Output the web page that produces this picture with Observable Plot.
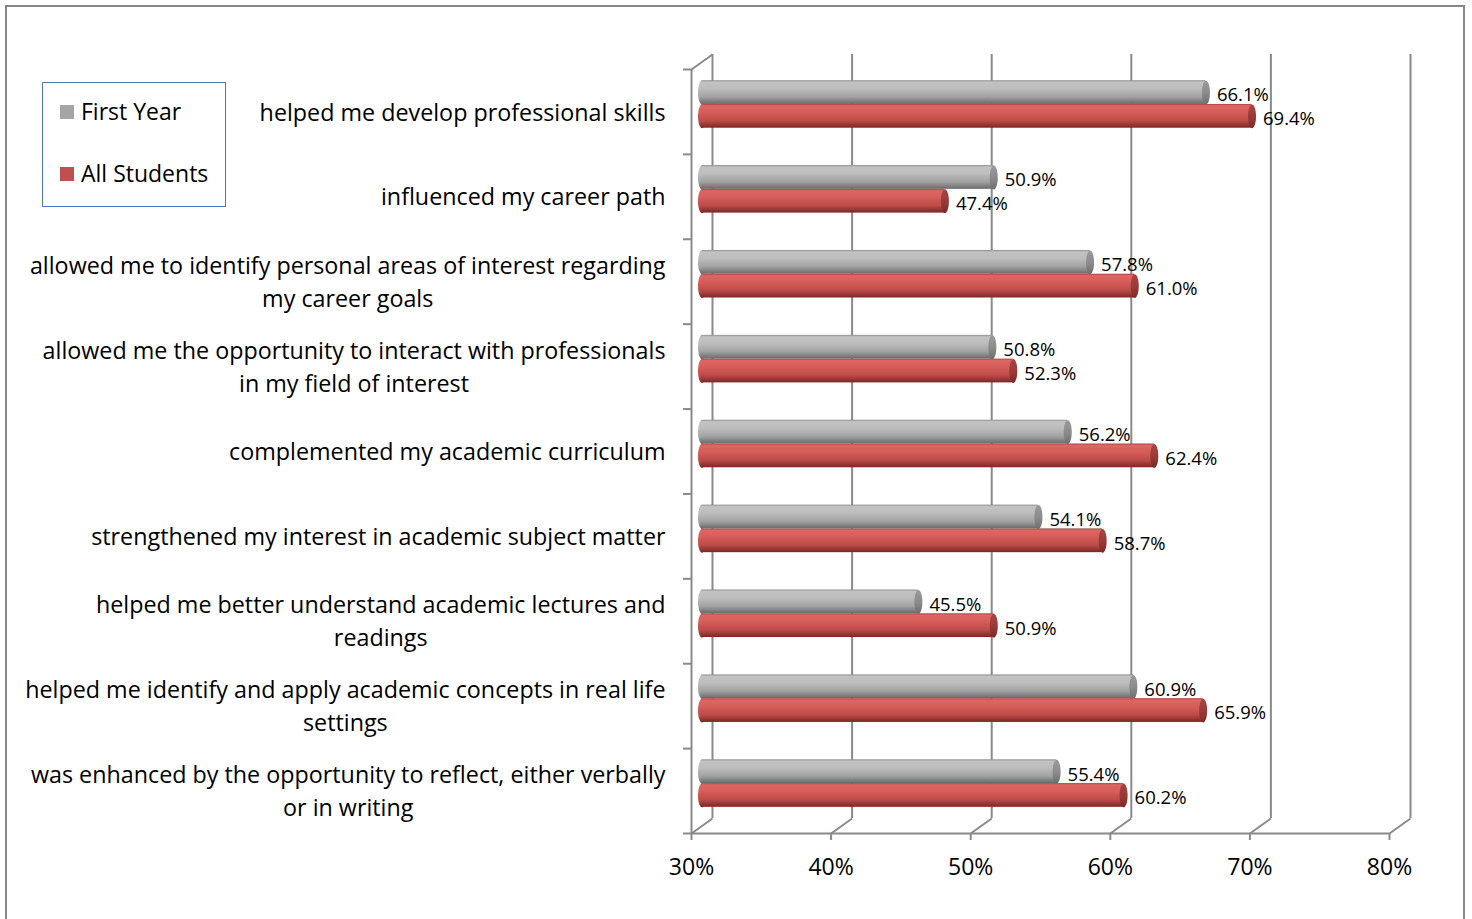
<!DOCTYPE html>
<html>
<head>
<meta charset="utf-8">
<script src="https://cdn.jsdelivr.net/npm/d3@7"></script>
<script src="https://cdn.jsdelivr.net/npm/@observablehq/plot@0.6"></script>
<style>
  html, body { margin: 0; padding: 0; background: #fff; }
  #wrap { position: relative; width: 1472px; height: 919px; overflow: hidden; font-family: "Open Sans", Lato, sans-serif; }
  #border { position: absolute; left: 5px; top: 5px; width: 1460px; height: 940px; border: 2px solid #878787; box-sizing: border-box; }
  #chart { position: absolute; left: 0; top: 0; }
  #legend { position: absolute; left: 42px; top: 82px; width: 184px; height: 125px; border: 1.5px solid #4a7ebb; box-sizing: border-box; background: #fff; }
  .item { position: absolute; left: 17px; display: flex; align-items: center; font-size: 23px; color: #000; line-height: 1; }
  .sw { width: 14px; height: 14px; margin-right: 7px; }
</style>
</head>
<body>
<div id="wrap">
  <div id="border"></div>
  <div id="chart"></div>
  <div id="legend"></div>
</div>
<script>
const categories = [
  "helped me develop professional skills",
  "influenced my career path",
  "allowed me to identify personal areas of interest regarding\nmy career goals",
  "allowed me the opportunity to interact with professionals\nin my field of interest",
  "complemented my academic curriculum",
  "strengthened my interest in academic subject matter",
  "helped me better understand academic lectures and\nreadings",
  "helped me identify and apply academic concepts in real life\nsettings",
  "was enhanced by the opportunity to reflect, either verbally\nor in writing"
];
const seriesNames = ["First Year", "All Students"];
const firstYear   = [66.1, 50.9, 57.8, 50.8, 56.2, 54.1, 45.5, 60.9, 55.4];
const allStudents = [69.4, 47.4, 61.0, 52.3, 62.4, 58.7, 50.9, 65.9, 60.2];
const xTicks = [30, 40, 50, 60, 70, 80];

// layout
const W = 1472, H = 919;
const FONT = "'Open Sans', Lato, sans-serif";
const xDomain = [30, 80], xRange = [691, 1389];
const yDomain = [0, categories.length], yRange = [69, 833];
const pxX = (xRange[1] - xRange[0]) / (xDomain[1] - xDomain[0]);
const pxY = (yRange[1] - yRange[0]) / (yDomain[1] - yDomain[0]);
const depthPx = [21, -15];
const dX = depthPx[0] / pxX, dY = -depthPx[1] / pxY;
const grid = "#8a8a8a";
const xInv = px => xDomain[0] + (px - xRange[0]) / pxX;

const barH = 0.28;
const series = [
  {name: seriesNames[0], values: firstYear, off: 0.22, grad: "gGray", cap: "cGray", color: "#a5a5a5"},
  {name: seriesNames[1], values: allStudents, off: 0.50, grad: "gRed", cap: "cRed", color: "#c0504d"}
];
const barData = series.flatMap(s => s.values.map((v, i) => ({i, v, s})));

const capRy = barH * pxY / 2, capRx = 4;
const ellipse = {
  draw(ctx) {
    const rx = capRx, ry = capRy, k = 0.5523;
    ctx.moveTo(rx, 0);
    ctx.bezierCurveTo(rx, ry * k, rx * k, ry, 0, ry);
    ctx.bezierCurveTo(-rx * k, ry, -rx, ry * k, -rx, 0);
    ctx.bezierCurveTo(-rx, -ry * k, -rx * k, -ry, 0, -ry);
    ctx.bezierCurveTo(rx * k, -ry, rx, -ry * k, rx, 0);
    ctx.closePath();
  }
};

// text measurement for centered multi-line category labels
const catFont = 23.3;
const cv = document.createElement("canvas").getContext("2d");
cv.font = `${catFont}px "Open Sans"`;
const blockWidth = s => d3.max(s.split("\n"), l => cv.measureText(l).width);
const labelRight = 665;

const mid = {dx: depthPx[0] / 2, dy: depthPx[1] / 2};
const fmt = d3.format(".1f");

const plot = Plot.plot({
  width: W, height: H,
  marginTop: 0, marginBottom: 0, marginLeft: 0, marginRight: 0,
  style: {fontFamily: FONT, background: "transparent", overflow: "visible"},
  x: {domain: xDomain, range: xRange, axis: null},
  y: {domain: yDomain, range: yRange, axis: null},
  marks: [
    // back wall gridlines
    Plot.ruleX(xTicks, {x: d => d, y1: () => yDomain[0], y2: () => yDomain[1], dx: depthPx[0], dy: depthPx[1], stroke: grid, strokeWidth: 2}),
    // floor diagonals
    Plot.link(xTicks, {x1: d => d, y1: () => yDomain[1], x2: d => d + dX, y2: () => yDomain[1] - dY, stroke: grid, strokeWidth: 2}),
    // front axis line
    Plot.ruleY([yDomain[1]], {y: d => d, x1: () => xDomain[0], x2: () => xDomain[1], stroke: grid, strokeWidth: 2}),
    // bottom ticks
    Plot.ruleX(xTicks, {x: d => d, y1: () => yDomain[1], y2: () => yDomain[1] + 7 / pxY, stroke: grid, strokeWidth: 2}),
    // left wall front line + top diagonal
    Plot.ruleX([xDomain[0]], {x: d => d, y1: () => yDomain[0], y2: () => yDomain[1], stroke: grid, strokeWidth: 2}),
    Plot.link([0], {x1: () => xDomain[0], y1: () => yDomain[0], x2: () => xDomain[0] + dX, y2: () => yDomain[0] - dY, stroke: grid, strokeWidth: 2}),
    // category ticks on left
    Plot.ruleY(d3.range(categories.length + 1), {y: d => d, x1: () => xDomain[0] - 8 / pxX, x2: () => xDomain[0], stroke: grid, strokeWidth: 2}),
    // bars (cylinders): back cap, body, front cap
    Plot.dot(barData, {x: () => xDomain[0], y: d => d.i + d.s.off + barH / 2, symbol: ellipse, fill: d => `url(#${d.s.grad})`, stroke: "none", ...mid}),
    Plot.rect(barData, {x1: () => xDomain[0], x2: d => d.v, y1: d => d.i + d.s.off, y2: d => d.i + d.s.off + barH, fill: d => `url(#${d.s.grad})`, ...mid}),
    Plot.dot(barData, {x: d => d.v, y: d => d.i + d.s.off + barH / 2, symbol: ellipse, fill: d => `url(#${d.s.cap})`, stroke: "none", ...mid}),
    // value labels
    Plot.text(barData, {x: d => d.v, y: d => d.i + d.s.off + barH / 2, text: d => fmt(d.v) + "%", textAnchor: "start", dx: mid.dx + 11, dy: mid.dy + 3, fontSize: 18.5, fill: "#000"}),
    // x tick labels
    Plot.text(xTicks, {x: d => d, y: () => yDomain[1], text: d => d + "%", dy: 34, fontSize: 23, fill: "#000"}),
    // category labels
    Plot.text(categories, {x: d => xInv(labelRight - blockWidth(d) / 2), y: (d, i) => i + 0.5, text: d => d, textAnchor: "middle", lineHeight: 1.42, fontSize: catFont, dy: -2, fill: "#000"})
  ]
});

// gradients for cylinder shading
const defs = d3.select(plot).insert("defs", ":first-child");
function grad(id, stops) {
  const g = defs.append("linearGradient").attr("id", id).attr("x1", 0).attr("y1", 0).attr("x2", 0).attr("y2", 1);
  stops.forEach(([o, c]) => g.append("stop").attr("offset", o).attr("stop-color", c));
}
grad("gGray", [[0, "#8e8e8e"], [0.08, "#c2c2c2"], [0.35, "#bdbdbd"], [0.7, "#a2a2a2"], [1, "#6a6a6a"]]);
grad("gRed", [[0, "#a84543"], [0.08, "#dd6764"], [0.35, "#d65d5a"], [0.7, "#bd4b48"], [1, "#7a2826"]]);
grad("cGray", [[0, "#9a9a9a"], [0.5, "#8c8c8c"], [1, "#6e6e6e"]]);
grad("cRed", [[0, "#a94442"], [0.5, "#9a3b39"], [1, "#7c2a28"]]);

document.getElementById("chart").appendChild(plot);

// legend
const legend = d3.select("#legend");
series.forEach((s, k) => {
  const it = legend.append("div").attr("class", "item").style("top", (k === 0 ? 17 : 79) + "px");
  it.append("div").attr("class", "sw").style("background", s.color);
  it.append("span").text(s.name);
});
</script>
</body>
</html>
